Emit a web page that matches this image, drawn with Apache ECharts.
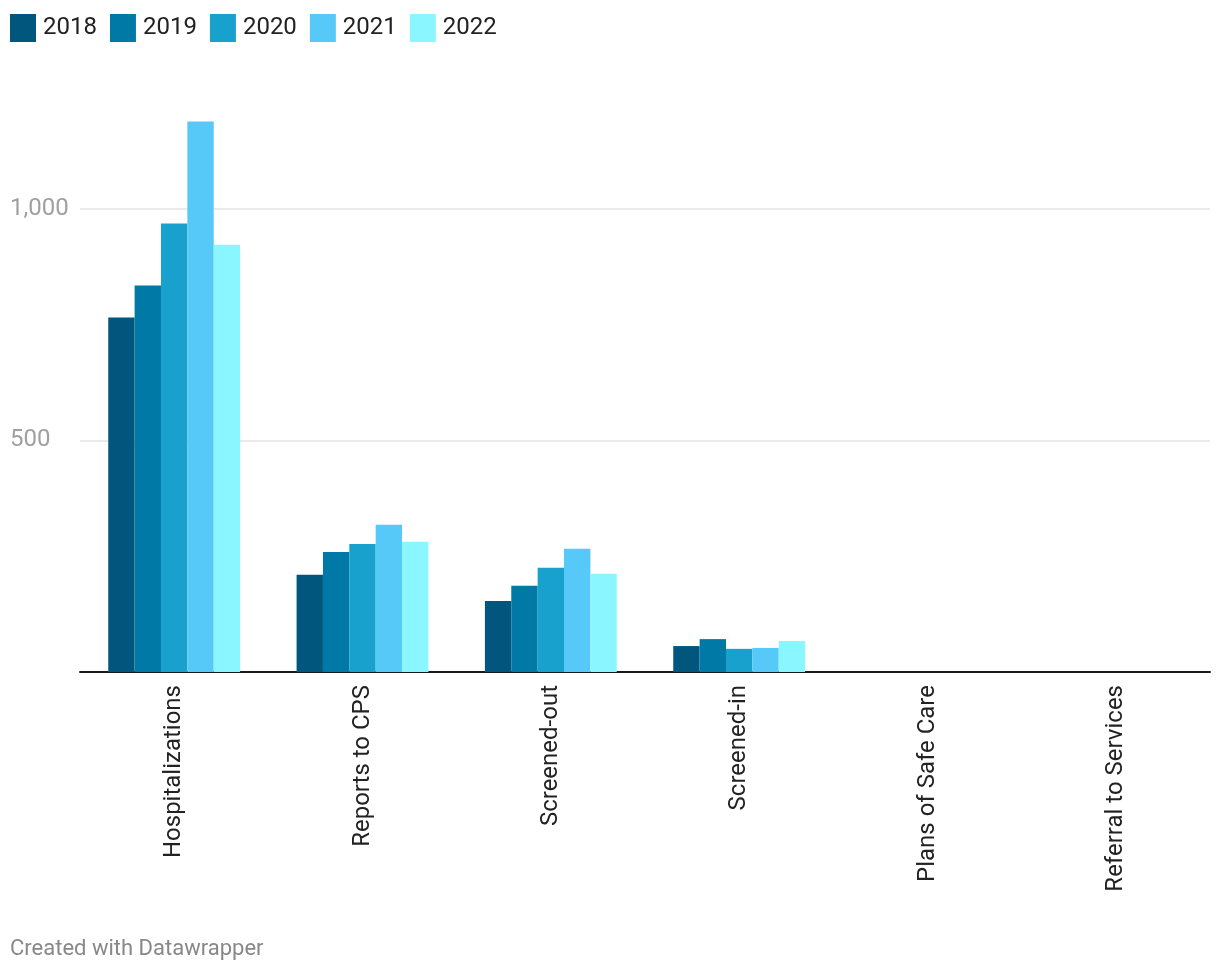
<!DOCTYPE html>
<html>
<head>
<meta charset="utf-8">
<script src="https://cdn.jsdelivr.net/npm/echarts@6/dist/echarts.min.js"></script>
<style>
  html, body { margin: 0; padding: 0; background: #fff; }
  #chart { width: 1220px; height: 976px; }
</style>
</head>
<body>
<div id="chart"></div>
<script>
const categories = ["Hospitalizations", "Reports to CPS", "Screened-out", "Screened-in", "Plans of Safe Care", "Referral to Services"];
const years = ["2018", "2019", "2020", "2021", "2022"];
const v2018 = [765, 210, 153, 56, null, null];
const v2019 = [834, 259, 186, 71, null, null];
const v2020 = [968, 276, 225, 50, null, null];
const v2021 = [1188, 318, 266, 52, null, null];
const v2022 = [922, 281, 212, 67, null, null];
const yTicks = [0, 500, 1000];

const values = [v2018, v2019, v2020, v2021, v2022];
const colors = ["#00567d", "#0079a6", "#18a1cd", "#56c9f8", "#8af6ff"];

const chart = echarts.init(document.getElementById('chart'), null, { renderer: 'canvas' });
chart.setOption({
  animation: false,
  textStyle: { fontFamily: 'Roboto' },
  legend: {
    left: 10, top: 14, padding: 0,
    icon: 'rect', itemWidth: 26, itemHeight: 28, itemGap: 13,
    textStyle: { fontSize: 24, color: '#222', fontFamily: 'Roboto', padding: [0, 0, 0, 2] },
    data: years
  },
  grid: { left: 80, right: 10, top: 116, bottom: 304, containLabel: false },
  xAxis: {
    type: 'category',
    data: categories,
    axisLine: { show: true, lineStyle: { color: '#1a1a1a', width: 2 } },
    axisTick: { show: false },
    axisLabel: { rotate: 90, fontSize: 24, color: '#222', margin: 13, fontFamily: 'Roboto', interval: 0 }
  },
  yAxis: {
    type: 'value',
    min: 0, max: 1200, interval: 500,
    axisLine: { show: false },
    axisTick: { show: false },
    splitLine: { show: true, showMinLine: false, showMaxLine: false, lineStyle: { color: '#e3e3e3', width: 1.5 } },
    axisLabel: {
      showMaxLabel: false, showMinLabel: false,
      align: 'left', margin: 70, fontSize: 24, color: '#a0a0a0', fontFamily: 'Roboto',
      formatter: v => yTicks.includes(v) ? v.toLocaleString('en-US') : ''
    }
  },
  series: years.map((y, i) => ({
    name: y, type: 'bar', data: values[i],
    barGap: '0%', barCategoryGap: '30%',
    itemStyle: { color: colors[i] }
  }))
});
</script>
<div style="position:absolute;left:10px;top:935px;font-family:Roboto;font-size:22px;color:#888;">Created with Datawrapper</div>
</body>
</html>
